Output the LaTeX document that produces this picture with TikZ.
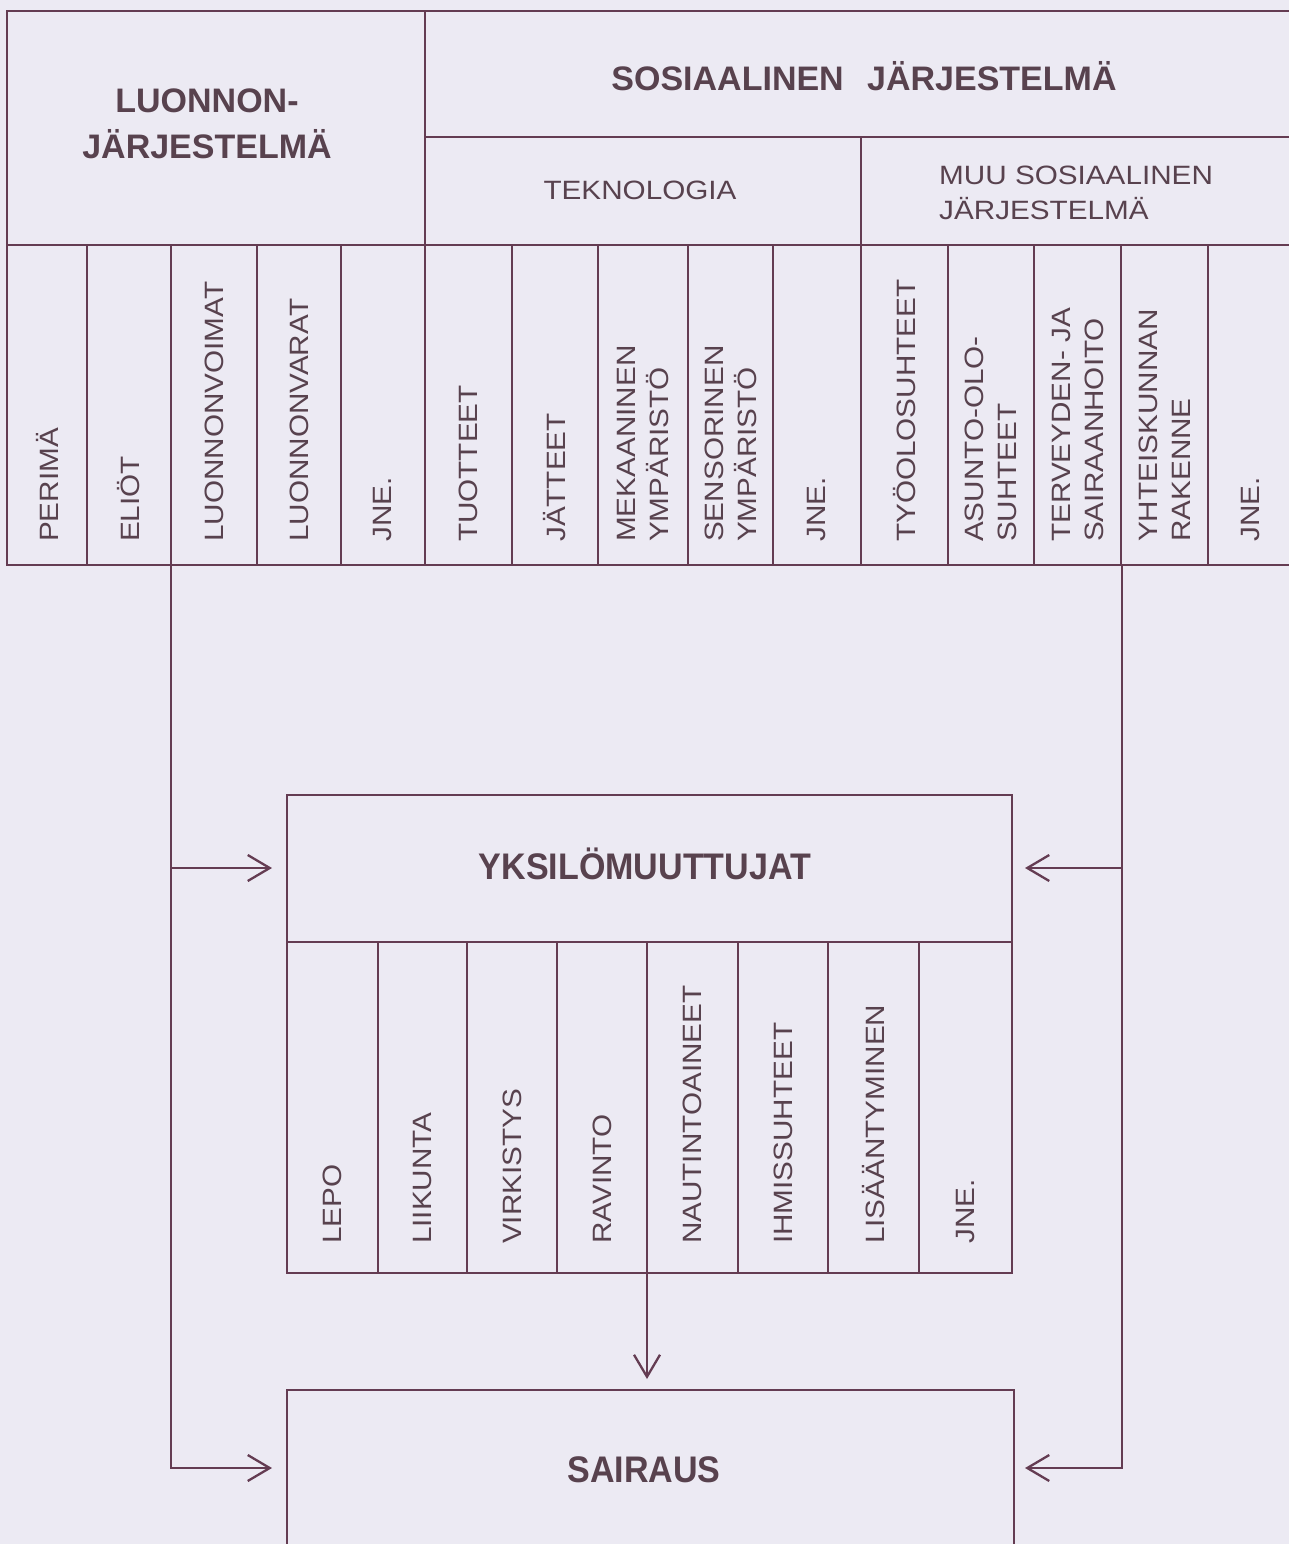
\documentclass[tikz,border=0pt]{standalone}
\usepackage{fontspec}
\setmainfont{Liberation Sans}
\newfontfamily\widef[FakeStretch=1.12]{Liberation Sans}
\newfontfamily\condf[FakeStretch=0.92]{Liberation Sans}
\usetikzlibrary{arrows.meta}
\definecolor{bgc}{RGB}{236,234,243}
\definecolor{lnc}{RGB}{100,60,82}
\definecolor{txc}{RGB}{88,66,78}
\begin{document}
\begin{tikzpicture}[x=1pt,y=-1pt,
  frame/.style={draw=lnc,line width=2.3pt},
  conn/.style={draw=lnc,line width=2.3pt},
  arr/.style={conn,-{Straight Barb[length=22pt,width=26pt,line width=2.3pt]}},
  headb/.style={text=txc,inner sep=0pt,align=center,font=\fontsize{34}{46}\selectfont\bfseries},
  headc/.style={text=txc,inner sep=0pt,align=center,font=\condf\fontsize{37}{44}\selectfont\bfseries},
  lab/.style={text=txc,inner sep=0pt,align=left,font=\widef\fontsize{26.5}{33}\selectfont},
  vlab/.style={lab,rotate=90,anchor=west}]
\fill[bgc] (0,0) rectangle (1289,1544);
\useasboundingbox (0,0) rectangle (1289,1544);

% ---------- top table ----------
\draw[frame] (1289,11) -- (7,11) -- (7,565) -- (1289,565);
\draw[frame] (7,245) -- (1289,245);
\draw[frame] (425,11) -- (425,565);
\draw[frame] (425,137) -- (1289,137);
\draw[frame] (861,137) -- (861,565);
\foreach \dx in {87,171,257,341,512,598,688,773,948,1034,1121,1208}
  \draw[frame] (\dx,245) -- (\dx,565);

\node[headb] (luonnon) at (207,124) {LUONNON-\\JÄRJESTELMÄ};
\node[headb,anchor=base] (sosiaal) at (864,91) {SOSIAALINEN\hspace{14pt} JÄRJESTELMÄ};
\node[lab,anchor=base] (tekno) at (640,199) {TEKNOLOGIA};
\node[lab,anchor=west,font=\widef\fontsize{26.5}{35}\selectfont] (muu) at (939,193) {MUU SOSIAALINEN\\JÄRJESTELMÄ};

\foreach \cx/\tx [count=\i] in {47/PERIMÄ,129/ELIÖT,214/LUONNONVOIMAT,299/LUONNONVARAT,383/JNE.,
  468.5/TUOTTEET,555/JÄTTEET,643/{MEKAANINEN\\YMPÄRISTÖ},730.5/{SENSORINEN\\YMPÄRISTÖ},817/JNE.,
  904.5/TYÖOLOSUHTEET,991/{ASUNTO-OLO-\\SUHTEET},1077.5/{TERVEYDEN- JA\\SAIRAANHOITO},
  1164.5/{YHTEISKUNNAN\\RAKENNE},1250/JNE.}
  \node[vlab] (top\i) at (\cx,542) {\tx};

% ---------- YKSILÖMUUTTUJAT box ----------
\draw[frame] (287,795) rectangle (1012,1273);
\draw[frame] (287,942) -- (1012,942);
\foreach \dx in {378,467,557,647,738,828,919}
  \draw[frame] (\dx,942) -- (\dx,1273);
\node[headc,anchor=base] (yks) at (645,879) {YKSILÖMUUTTUJAT};

\foreach \cx/\tx [count=\i] in {332.5/LEPO,422.5/LIIKUNTA,512/VIRKISTYS,602/RAVINTO,
  692.5/NAUTINTOAINEET,783/IHMISSUHTEET,873.5/LISÄÄNTYMINEN,965.5/JNE.}
  \node[vlab] (yk\i) at (\cx,1244) {\tx};

% ---------- SAIRAUS box ----------
\draw[frame] (287,1550) -- (287,1390) -- (1014,1390) -- (1014,1550);
\node[headc,anchor=base] (sair) at (644,1482) {SAIRAUS};

% ---------- connectors ----------
\coordinate (lt) at (171,565);
\coordinate (l1) at (171,868);
\coordinate (yl) at (272,868);
\coordinate (sl) at (272,1468);
\coordinate (rt) at (1122,565);
\coordinate (r1) at (1122,868);
\coordinate (yr) at (1025,868);
\coordinate (sr) at (1025,1468);
\coordinate (yb) at (647,1273);
\coordinate (st) at (647,1379);

\draw[arr] (lt) |- (sl);
\draw[arr] (l1) -- (yl);
\draw[arr] (rt) |- (sr);
\draw[arr] (r1) -- (yr);
\draw[arr] (yb) -- (st);
\end{tikzpicture}
\end{document}
